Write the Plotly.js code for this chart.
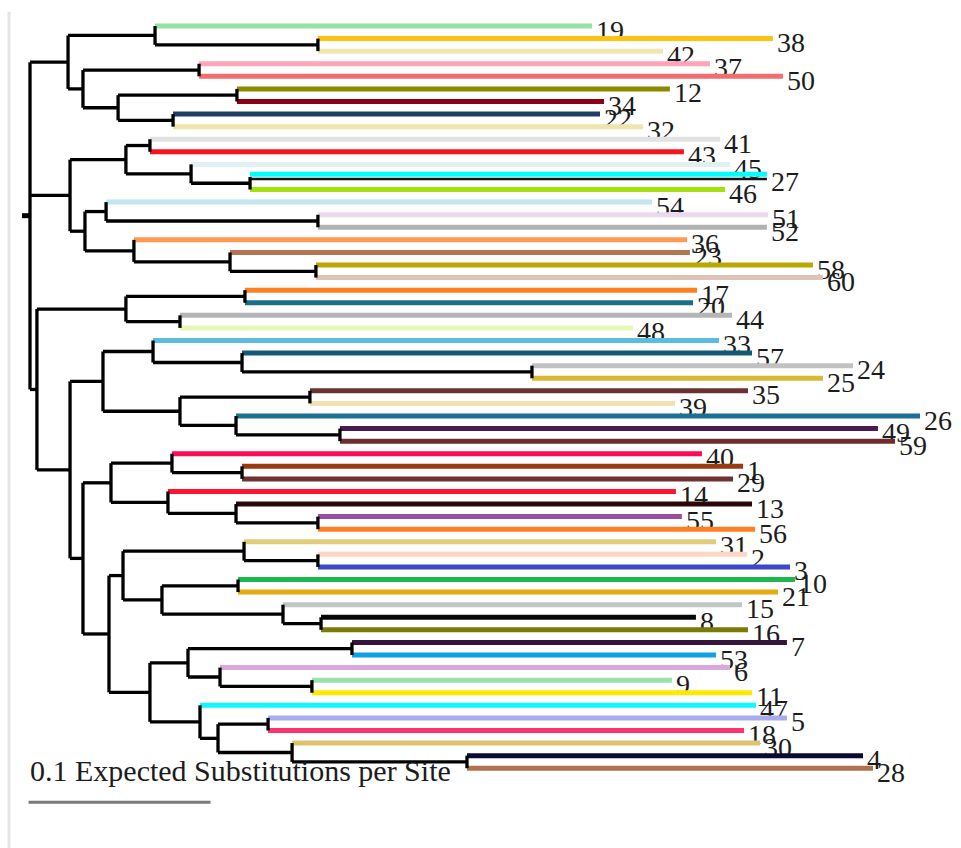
<!DOCTYPE html>
<html>
<head>
<meta charset="utf-8">
<script src="https://cdn.plot.ly/plotly-3.0.1.min.js"></script>
<style>html,body{margin:0;padding:0;background:#fff;}#chart{width:961px;height:848px;}</style>
</head>
<body>
<div id="chart"></div>
<script>
// ---- Leaves (top to bottom) ----
const leafNames = ['19','38','42','37','50','12','34','22','32','41','43','45','27','46','54','51','52','36','23','58','60',
  '17','20','44','48','33','57','24','25','35','39','26','49','59','40','1','29','14','13','55','56','31','2','3','10','21',
  '15','8','16','7','53','6','9','11','47','5','18','30','4','28'];
const leafColors = ['#94e2a4','#ffc20e','#efe6b0','#ffa3b8','#f26d6d','#8c8a00','#8b0015','#1f3e66','#efe3ae','#e2e2e2',
  '#f8141e','#e2f0f6','#00ffff','#a2e00e','#c2e6ee','#ead8ee','#b2b2b2','#ff9a52','#b37552','#b9a800','#dfc3b6',
  '#ff8022','#1c6e88','#b5b5b5','#e8f8b4','#5bbcdc','#125a74','#c2c2c2','#d8b834','#6b3232','#efe4b0','#1a7192',
  '#4b1a4e','#6e2c30','#ff0a54','#993a10','#6e3232','#ff1430','#2a0808','#9b4ba0','#ff7f24','#e2cc7a','#ffd6c4',
  '#3a48cc','#1cb84e','#e4ac10','#c2c6c2','#080808','#7a7a08','#33163a','#0ea0e2','#dba8dc','#9ae2ac','#ffe900',
  '#10f8ff','#aaaaee','#fb3470','#dcc46e','#0c0a32','#b0714e'];
const leafParent = ['A1','A1a','A1a','A2a','A2a','A2b1','A2b1','A2b2','A2b2','B1a','B1a','B1b','B1b1','B1b1','B2a','B2a1','B2a1',
  'B2b','B2b1','B2b1a','B2b1a','C1a','C1a','C1b','C1b','C2a1','C2a1a','C2a1b','C2a1b','C2a2a','C2a2a','C2a2b','C2a2c','C2a2c',
  'C2b1a','C2b1a1','C2b1a1','C2b1b','C2b1b1','C2b1b2','C2b1b2','D1','D1a','D1a','D2a','D2a','D2b','D2b1','D2b1',
  'E1a','E1a','E1b','E1b1','E1b1','E2','E2a1','E2a1','E2a2','E2a3','E2a3'];
// distance from root (expected substitutions per site)
const leafDepth = [0.3088,0.4082,0.3478,0.3736,0.4137,0.3516,0.3154,0.3132,0.3368,0.3791,0.3593,0.3846,0.4049,0.3819,
  0.3418,0.4055,0.4049,0.3610,0.3626,0.4302,0.4357,0.3665,0.3643,0.3857,0.3313,0.3786,0.3967,0.4522,0.4357,0.3945,
  0.3544,0.4890,0.4659,0.4753,0.3692,0.3918,0.3863,0.3549,0.3967,0.3582,0.3984,0.3769,0.3940,0.4176,0.4203,0.4110,
  0.3912,0.3659,0.3945,0.4159,0.3769,0.3846,0.3527,0.3967,0.3989,0.4159,0.3923,0.4011,0.4577,0.4632];
const outlinedLeaves = ['27'];

// ---- Internal nodes ----
const nodeNames = ['R','A','A1','A1a','A2','A2a','A2b','A2b1','A2b2','B','B1','B1a','B1b','B1b1','B2','B2a','B2a1','B2b','B2b1',
  'B2b1a','C','C1','C1a','C1b','C2','C2a','C2a1','C2a1a','C2a1b','C2a2','C2a2a','C2a2b','C2a2c','C2b','C2b1','C2b1a','C2b1a1',
  'C2b1b','C2b1b1','C2b1b2','C2b2','D','D1','D1a','D2','D2a','D2b','D2b1','E','E1','E1a','E1b','E1b1','E2','E2a','E2a1','E2a2','E2a3'];
const nodeParent = ['','R','A','A1','A','A2','A2','A2b','A2b','R','B','B1','B1','B1b','B','B2','B2a','B2','B2b',
  'B2b1','R','C','C1','C1','C','C2','C2a','C2a1','C2a1a','C2a','C2a2','C2a2','C2a2b','C2','C2b','C2b1','C2b1a',
  'C2b1','C2b1b','C2b1b1','C2b','C2b2','D','D1','D','D2','D2','D2b','C2b2','E','E1','E1','E1b','E','E2','E2a','E2a','E2a2'];
const nodeDepth = [0,0.0209,0.0687,0.1582,0.0291,0.0929,0.0484,0.1137,0.0786,0.0220,0.0527,0.0659,0.0885,0.1209,0.0302,
  0.0418,0.1582,0.0571,0.1099,0.1571,0.0038,0.0527,0.1181,0.0824,0.0220,0.0401,0.0676,0.1165,0.2758,0.0824,0.1538,
  0.1132,0.1703,0.0291,0.0445,0.0780,0.1165,0.0758,0.1132,0.1582,0.0434,0.0511,0.1176,0.1582,0.0725,0.1143,0.1390,
  0.1599,0.0659,0.0868,0.1769,0.1044,0.1549,0.0934,0.1033,0.1308,0.1440,0.2401];

const scaleLength = 0.1;
const scaleLabel = '0.1 Expected Substitutions per Site';

// ---- Layout computation ----
const depthOf = {}; nodeNames.forEach((n,i)=>depthOf[n]=nodeDepth[i]);
const kids = {}; nodeNames.forEach(n=>kids[n]=[]);
leafNames.forEach((l,i)=>kids[leafParent[i]].push({leaf:true, y:i}));
nodeNames.forEach((n,i)=>{ if(nodeParent[i]) kids[nodeParent[i]].push({leaf:false, name:n}); });
const yOf = {};
function nodeY(n){
  if (yOf[n] !== undefined) return yOf[n];
  const ys = kids[n].map(c => c.leaf ? c.y : nodeY(c.name));
  yOf[n] = ys.reduce((a,b)=>a+b,0)/ys.length;
  return yOf[n];
}
nodeNames.forEach(n=>nodeY(n));

const traces = [];
// labels (drawn first so the lines overlap them)
traces.push({
  type:'scatter', mode:'text', x: leafDepth.map(d=>d+0.0022), y: leafNames.map((_,i)=>i+0.52),
  text: leafNames, textposition:'middle right',
  textfont:{family:'Liberation Serif, Times New Roman, serif', size:28, color:'#1c1c1c'},
  hoverinfo:'skip', cliponaxis:false
});
// outline under some leaves
leafNames.forEach((l,i)=>{
  if (outlinedLeaves.includes(l)) {
    const px = depthOf[leafParent[i]];
    traces.push({type:'scatter', mode:'lines', x:[px, leafDepth[i]], y:[i+0.17, i+0.17],
      line:{color:'#111', width:2.5}, hoverinfo:'skip'});
  }
});
// colored leaf branches
leafNames.forEach((l,i)=>{
  const px = depthOf[leafParent[i]];
  const yy = outlinedLeaves.includes(l) ? i-0.22 : i;
  traces.push({type:'scatter', mode:'lines', x:[px, leafDepth[i]], y:[yy, yy],
    line:{color:leafColors[i], width:5}, hoverinfo:'skip'});
});
// black internal branches
const bx = [], by = [];
nodeNames.forEach((n,i)=>{
  const ys = kids[n].map(c => c.leaf ? c.y : yOf[c.name]);
  bx.push(depthOf[n], depthOf[n], null); by.push(Math.min(...ys), Math.max(...ys), null);
  if (nodeParent[i]) { bx.push(depthOf[nodeParent[i]], depthOf[n], null); by.push(yOf[n], yOf[n], null); }
});
traces.push({type:'scatter', mode:'lines', x:bx, y:by, line:{color:'#000', width:3.3}, hoverinfo:'skip', connectgaps:false});
// root stub
traces.push({type:'scatter', mode:'lines', x:[-0.0044, 0], y:[yOf['R'], yOf['R']], line:{color:'#000', width:5}, hoverinfo:'skip'});
// scale bar
traces.push({type:'scatter', mode:'lines', x:[-0.0008, scaleLength-0.0008], y:[61.7, 61.7], line:{color:'#7a7a7a', width:3}, hoverinfo:'skip'});

const layout = {
  width:961, height:848, margin:{l:0,r:0,t:0,b:0}, showlegend:false,
  paper_bgcolor:'#fff', plot_bgcolor:'#fff', hovermode:false,
  xaxis:{range:[-0.016484, 0.511538], visible:false, fixedrange:true},
  yaxis:{range:[65.342, -2.067], visible:false, fixedrange:true},
  annotations:[{x:-0.0012, y:59.15, xref:'x', yref:'y', text:scaleLabel, showarrow:false, xanchor:'left', yanchor:'middle',
    font:{family:'Liberation Serif, Times New Roman, serif', size:30, color:'#1c1c1c'}}],
  shapes:[{type:'line', xref:'paper', yref:'paper', x0:0.0094, x1:0.0094, y0:0, y1:0.986, line:{color:'#e6e6e6', width:3}}]
};
Plotly.newPlot('chart', traces, layout, {staticPlot:true, displayModeBar:false});
</script>
</body>
</html>
